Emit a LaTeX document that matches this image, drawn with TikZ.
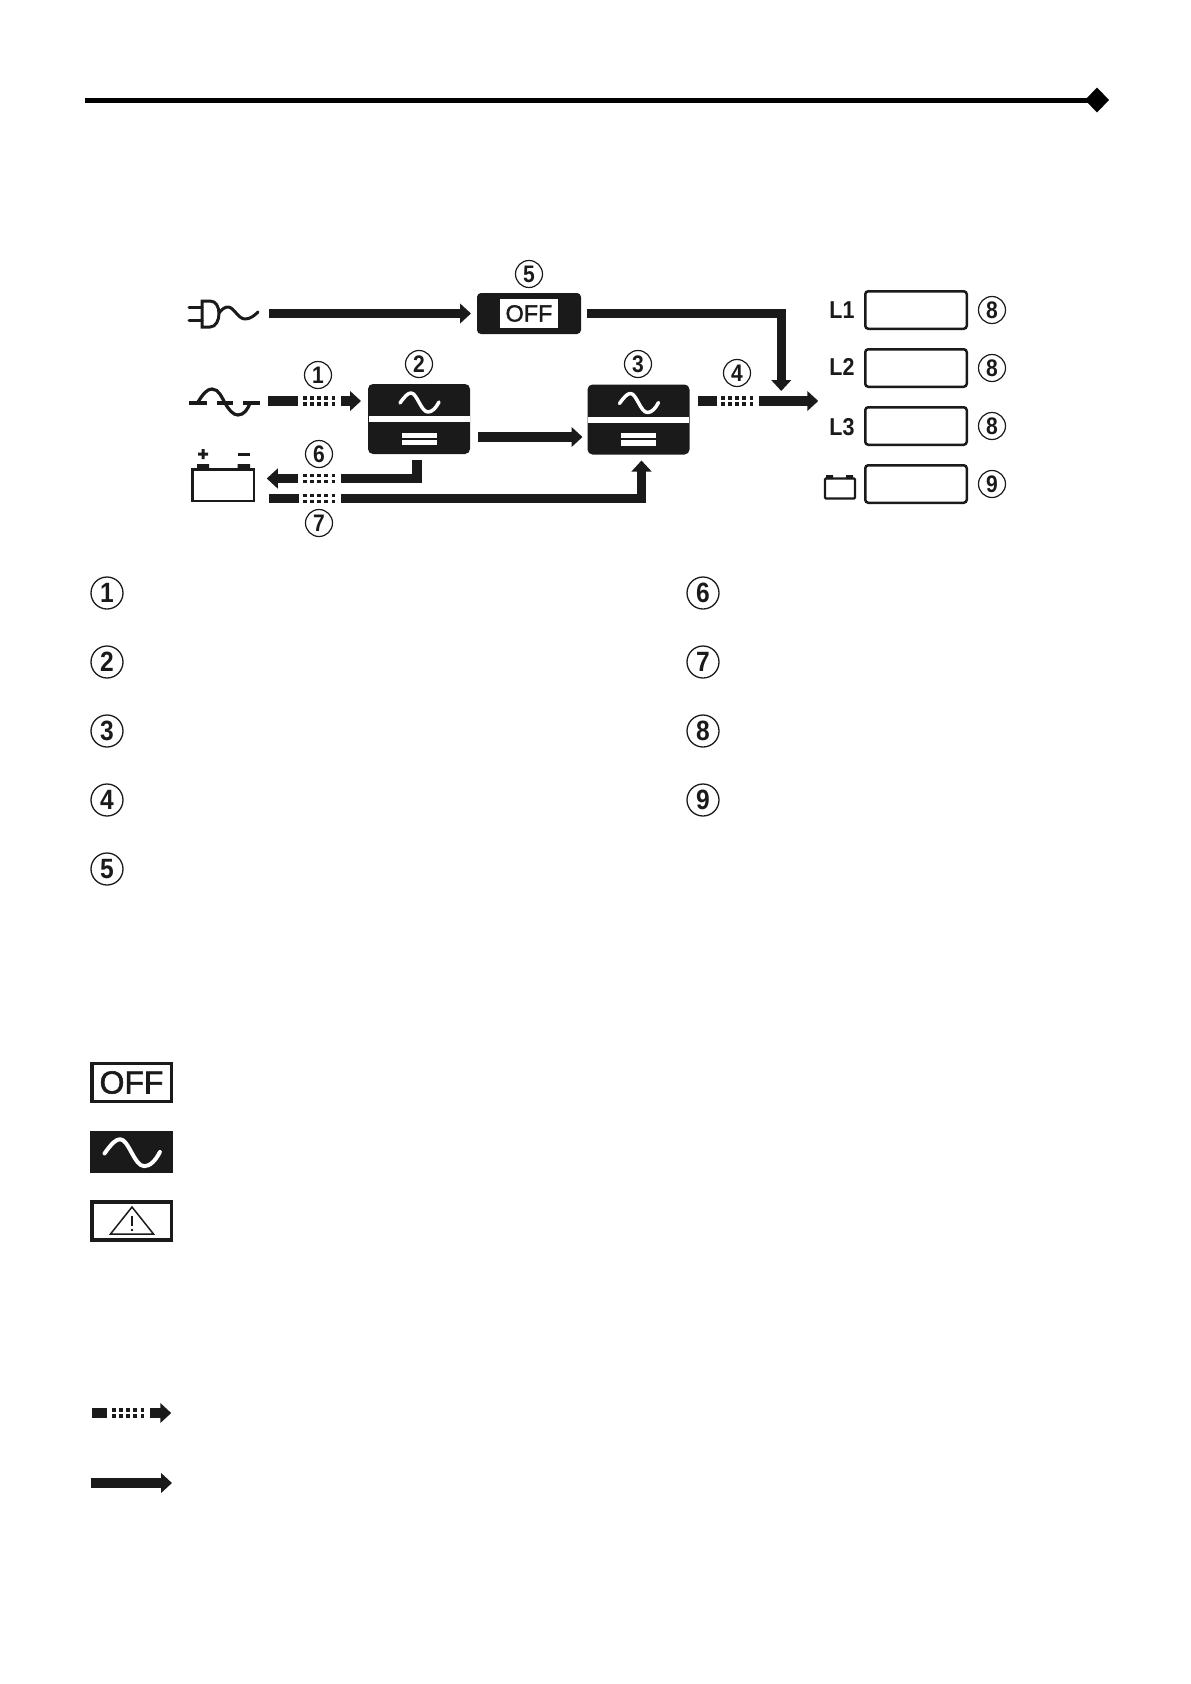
\documentclass[tikz,border=0pt]{standalone}
\usepackage{fontspec}
\setmainfont{Liberation Sans}
\newfontfamily\numfont[FakeStretch=0.88]{Liberation Sans}
\newfontfamily\heavyfont[FakeBold=1.8]{Liberation Sans}
\usetikzlibrary{arrows.meta,calc}
\definecolor{ink}{HTML}{1A1A1A}
\tikzset{
  flow/.style={draw=ink,line width=9.5bp,line cap=butt,miter limit=10,-{Triangle[length=11bp,width=19.5bp]}},
  flowplain/.style={draw=ink,line width=9.5bp,line cap=butt},
  num/.style={circle,draw=ink,line width=1.2bp,minimum size=27bp,inner sep=0pt,outer sep=0pt,text=ink,font=\fontsize{24}{26}\numfont\bfseries},
  numbig/.style={circle,draw=ink,line width=1.3bp,minimum size=32bp,inner sep=0pt,outer sep=0pt,text=ink,font=\fontsize{28}{30}\numfont\bfseries},
  block/.style={fill=ink,rounded corners=5bp,minimum width=102bp,minimum height=70bp,inner sep=0pt,outer sep=0pt},
  offblock/.style={fill=ink,rounded corners=4bp,minimum width=104bp,minimum height=41bp,inner sep=0pt,outer sep=0pt},
  whitepanel/.style={fill=white,minimum width=58bp,minimum height=29bp,inner sep=0pt,outer sep=0pt,text=ink,font=\fontsize{23.5}{25}\heavyfont},
  display/.style={draw=ink,line width=2.5bp,rounded corners=3bp,minimum width=101.5bp,minimum height=37.5bp,inner sep=0pt,outer sep=0pt},
  linelabel/.style={inner sep=0pt,outer sep=0pt,text=ink,font=\fontsize{24.5}{26}\numfont\bfseries},
  icon/.style={inner sep=0pt,outer sep=0pt},
  iconline/.style={draw=ink,line width=3bp,line cap=round,line join=round},
  legendbox/.style={draw=ink,line width=3.5bp,minimum width=79.5bp,minimum height=38bp,inner sep=0pt,outer sep=0pt,text=ink,font=\fontsize{32}{34}\heavyfont},
  legendfill/.style={fill=ink,minimum width=83bp,minimum height=42bp,inner sep=0pt,outer sep=0pt},
  dotblock/.style={minimum width=33.5bp,minimum height=10bp,inner sep=0pt,outer sep=0pt,
    path picture={
      \draw[ink,line width=3.5bp,dash pattern=on 3.9bp off 3.3bp]
        ([yshift=2.9bp]path picture bounding box.west) -- ([yshift=2.9bp]path picture bounding box.east);
      \draw[ink,line width=3.5bp,dash pattern=on 3.9bp off 3.3bp]
        ([yshift=-2.9bp]path picture bounding box.west) -- ([yshift=-2.9bp]path picture bounding box.east);
    }},
  sinewave/.pic={
    \draw[white,line width=3.5bp,line cap=round,line join=round,#1]
      (-19,1) .. controls (-14,-6) and (-11,-9) .. (-8,-9)
      .. controls (-2,-9) and (2,10) .. (9,10)
      .. controls (13,10) and (17,6) .. (20,0);
  },
  sinewave/.default={}
}
\begin{document}
\begin{tikzpicture}[x=1bp,y=-1bp]
\useasboundingbox (0,0) rectangle (1190,1684);
% top rule
\coordinate (ruleL) at (85,100);
\node[icon,fill=black,minimum size=0pt] (ruleD) at (1097,100) {};
\fill[black] (1085,100) -- (1097,87.5) -- (1109,100) -- (1097,112.5) -- cycle;
\draw[black,line width=5bp] (ruleL) -- (ruleD.center);

% blocks
\node[offblock] (off) at (529,313.5) {};
\node[whitepanel] (offp) at (off) {OFF};
\node[block] (b2) at (419,419) {};
\node[block] (b3) at (638.5,419.5) {};
\foreach \b/\bx/\by in {b2/419/419,b3/638.5/419.5}{
  \fill[white] (\bx-50.5,\by-3) rectangle (\bx+50.5,\by+3);
  \fill[white] (\bx-17.5,\by+13.5) rectangle (\bx+17.5,\by+18.5);
  \fill[white] (\bx-17.5,\by+20.5) rectangle (\bx+17.5,\by+26);
  \pic at (\bx,\by-17) {sinewave};
}

% source icons
\node[icon,minimum width=69bp,minimum height=27bp] (plug) at (223.5,313.5) {};
\draw[iconline] (189,307) -- (202,307) (189,320) -- (202,320);
\draw[iconline,line join=miter] (202,301) -- (210,301) .. controls (216,301) and (219,307) .. (219,313.5)
  .. controls (219,320) and (216,327) .. (210,327) -- (202,327) -- cycle;
\draw[iconline] (219,313) .. controls (222,309) and (225,307) .. (228,307)
  .. controls (234,307) and (238,319) .. (245,319) .. controls (250,319) and (254,316) .. (258,312);

\node[icon,minimum width=71bp,minimum height=28bp] (mains) at (224.5,402) {};
\draw[iconline,line width=3.5bp,line cap=butt] (189,403) -- (207,403) (217,403) -- (233,403) (243,403) -- (260,403);
\draw[iconline,line width=3.2bp] (198,402) .. controls (203,394) and (207,389) .. (212,389)
  .. controls (219,389) and (222,398) .. (225,403) .. controls (229,410) and (233,415) .. (238,415)
  .. controls (244,415) and (248,409) .. (250,403);

\node[draw=ink,line width=2.5bp,minimum width=61.5bp,minimum height=31.5bp,inner sep=0pt,outer sep=0pt] (bat) at (223,485) {};
\fill[ink] (197,464) rectangle (209,468.5) (237.5,464) rectangle (250,468.5);
\fill[ink] (201.5,449) rectangle (204.5,459) (198,452.5) rectangle (208,455.5);
\fill[ink] (238,452.5) rectangle (250,455.5);

% dotted parts
\node[dotblock] (d1) at (319.5,401) {};
\node[dotblock] (d4) at (737.5,401) {};
\node[dotblock] (d6) at (319.5,478.5) {};
\node[dotblock] (d7) at (319.5,498.5) {};

% connectors
\draw[flow] ([xshift=11bp]plug.east) -- ([xshift=-6bp]off.west);
\draw[flow] ([xshift=6bp]off.east) -| ([yshift=10bp]$(d4.east)+(27,0)$);
\draw[flowplain] ([xshift=8bp]mains.east |- d1.west) -- ([xshift=-5bp]d1.west);
\draw[flow] ([xshift=5bp]d1.east) -- ([xshift=-7bp]b2.west |- d1.east);
\draw[flow] (b2.east |- 0,437) ++(8,0) -- ([xshift=-5bp]b3.west |- 0,437);
\draw[flowplain] ([xshift=8bp]b3.east |- d4.west) -- ([xshift=-4bp]d4.west);
\draw[flow] ([xshift=5bp]d4.east) -- ++(59,0);
\draw[flowplain] ([yshift=-6bp,xshift=-2bp]b2.south) |- ([xshift=5bp]d6.east);
\draw[flow] ([xshift=-5bp]d6.west) -- ([xshift=13bp]bat.east |- d6.west);
\draw[flowplain] ([xshift=-4bp]d7.west) -- ++(-30,0);
\draw[flow] ([xshift=5bp]d7.east) -| ([yshift=-6bp,xshift=3bp]b3.south);

% numbers on diagram
\node[num] (n5) at (529,274) {5};
\node[num] (n1) at (318,375) {1};
\node[num] (n2) at (419,364) {2};
\node[num] (n3) at (638,364) {3};
\node[num] (n4) at (737,373) {4};
\node[num] (n6) at (319,454) {6};
\node[num] (n7) at (319,523) {7};

% displays
\node[linelabel] (l1) at (842,310) {L1};
\node[linelabel] (l2) at (842,367) {L2};
\node[linelabel] (l3) at (842,427) {L3};
\node[display] (o1) at (916,310) {};
\node[display] (o2) at (916,368) {};
\node[display] (o3) at (916,426) {};
\node[display] (o4) at (916,484) {};
\node[num] (m1) at (992,310) {8};
\node[num] (m2) at (992,368) {8};
\node[num] (m3) at (992,426) {8};
\node[num] (m4) at (992,484) {9};
\node[draw=ink,line width=2.4bp,rounded corners=1bp,minimum width=30bp,minimum height=20bp,inner sep=0pt,outer sep=0pt] (smallbat) at (840,488.5) {};
\fill[ink] (826,475) rectangle (833,479) (846,475) rectangle (853,479);

% legend numbers
\node[numbig] (k1) at (107,593) {1};
\node[numbig] (k2) at (107,662) {2};
\node[numbig] (k3) at (107,731) {3};
\node[numbig] (k4) at (107,800) {4};
\node[numbig] (k5) at (107,869) {5};
\node[numbig] (k6) at (703,593) {6};
\node[numbig] (k7) at (703,662) {7};
\node[numbig] (k8) at (703,731) {8};
\node[numbig] (k9) at (703,800) {9};

% legend icons
\node[legendbox] (iconoff) at (131.5,1082.5) {OFF};
\node[legendfill] (iconsine) at (131.5,1152) {};
\pic at (131.5,1152) {sinewave={line width=4bp,scale=1.42}};
\node[legendbox] (iconwarn) at (131.5,1221) {};
\draw[ink,line width=1.5bp,line join=miter] (132,1207) -- (153.5,1234) -- (110.5,1234) -- cycle;
\draw[ink,line width=1.5bp] (132,1216) -- (132,1226);
\fill[ink] (131.2,1228.5) rectangle (132.8,1231);

% legend arrows
\node[dotblock] (kd) at (128.5,1413) {};
\draw[flowplain] ([xshift=-5bp]kd.west) -- ++(-15,0);
\draw[flow] ([xshift=5bp]kd.east) -- ++(21,0);
\coordinate (ks) at (91,1483);
\coordinate (ke) at (172,1483);
\draw[flow] (ks) -- (ke);
\end{tikzpicture}
\end{document}
